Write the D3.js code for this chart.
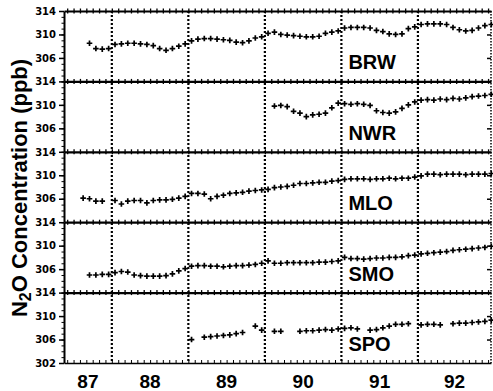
<!DOCTYPE html>
<meta charset="utf-8">
<title>N2O concentration</title>
<style>

body { margin: 0; background: #fff; }
.ylab text { font: bold 10px "DejaVu Sans", sans-serif; fill: #000; }
.big { font-family: "Liberation Sans", Arial, sans-serif; font-weight: bold; fill: #000; }

</style>

<svg width="493" height="391"></svg>
<script src="https://d3js.org/d3.v7.min.js"></script>
<script>

var stations = ["BRW", "NWR", "MLO", "SMO", "SPO"];
var years = [1987, 1988, 1989, 1990, 1991, 1992];
var yearLabels = ["87", "88", "89", "90", "91", "92"];
var yTicks = [306, 310, 314];

// monthly means in ppb, Aug 1987 .. Dec 1992, null = no data
var brw = [null,
  308.5, 307.6, 307.5, 307.6,
  308.3, 308.4, 308.5, 308.5, 308.4, 308.3, 308.1, 307.6, 307.3, 307.6, 308.0, 308.4,
  308.9, 309.2, 309.3, 309.3, 309.2, 309.1, 309.0, 308.7, 308.6, 308.9, 309.4, 309.6,
  310.2, 310.4, 310.0, 309.9, 309.8, 309.7, 309.6, 309.6, 309.7, 310.2, 310.4, 310.6,
  311.1, 311.2, 311.2, 311.2, 311.1, 310.7, 310.5, 310.1, 310.0, 310.1, 311.0, 311.3,
  311.7, 311.8, 311.8, 311.8, 311.7, 311.2, 310.8, 310.6, 310.7, 311.1, 311.5, 311.7];

var nwr = [null, null, null, null, null,
  null, null, null, null, null, null, null, null, null, null, null, null,
  null, null, null, null, null, null, null, null, null, null, null, null,
  null, 309.8, 309.9, 309.7, 308.9, 308.6, 308.0, 308.3, 308.4, 308.6, 309.5, 310.3,
  310.2, 310.1, 310.2, 310.1, 309.9, 309.0, 308.7, 308.6, 308.8, 309.4, 310.0, 310.5,
  310.8, 310.9, 310.8, 311.0, 310.9, 311.1, 311.0, 311.2, 311.4, 311.5, 311.6, 311.8];

var mlo = [306.1, 306.0, 305.6, 305.6, null,
  305.7, 305.1, 305.6, 305.7, 305.7, 305.3, 305.7, 305.8, 305.8, 305.9, 306.1, 306.4,
  306.9, 306.9, 306.8, 306.0, 306.4, 306.6, 306.9, 307.0, 307.1, 307.3, 307.4, 307.5,
  307.6, 307.9, 308.0, 308.1, 308.3, 308.6, 308.6, 308.7, 308.8, 308.8, 309.0, 309.1,
  309.3, 309.4, 309.4, 309.4, 309.3, 309.4, 309.4, 309.5, 309.4, 309.5, 309.5, 309.7,
  309.9, 310.2, 310.2, 310.1, 310.2, 310.2, 310.2, 310.1, 310.2, 310.2, 310.2, 310.3];

var smo = [null, 305.0, 305.0, 305.1, 305.1,
  305.4, 305.6, 305.5, 305.0, 304.9, 304.8, 304.8, 304.8, 304.9, 305.2, 305.7, 306.1,
  306.5, 306.6, 306.6, 306.5, 306.5, 306.4, 306.5, 306.6, 306.6, 306.7, 306.8, 307.0,
  307.4, 307.0, 307.0, 307.1, 307.1, 307.1, 307.1, 307.1, 307.2, 307.2, 307.3, 307.4,
  308.0, 307.8, 307.8, 307.7, 307.8, 307.9, 307.9, 308.0, 308.0, 308.1, 308.3, 308.4,
  308.6, 308.7, 308.8, 308.9, 309.0, 309.2, 309.3, 309.4, 309.5, 309.6, 309.7, 309.9];

var spo = [null, null, null, null, null,
  null, null, null, null, null, null, null, null, null, null, null, null,
  306.0, null, 306.4, 306.5, 306.6, 306.7, 306.8, 307.0, 307.2, null, 308.3, 307.6,
  null, 307.4, 307.4, null, null, 307.4, 307.5, 307.5, 307.6, 307.7, 307.6, 307.8,
  307.9, 308.0, 307.8, null, 307.6, 307.7, 308.0, 308.3, 308.6, 308.6, 308.7, null,
  308.5, 308.6, 308.6, 308.5, null, 308.7, 308.8, 308.8, 308.9, 309.0, 309.1, 309.3];

var series = [brw, nwr, mlo, smo, spo];

var svg = d3.select("svg"),
    plotLeft = 64, plotRight = 491, plotTop = 11, panelH = 70.4,
    plotBottom = plotTop + stations.length * panelH;

var x = d3.scaleLinear()
    .domain([1987.375, 1992.955])
    .range([plotLeft, plotRight]);

function monthTime(i) { return 1987 + (7 + i + 0.5) / 12; }

var monthTicks = d3.range(5, 72).map(function(m) { return 1987 + m / 12; });
var plus = "M-2.8,0H2.8M0,-2.8V2.8";

stations.forEach(function(name, p) {
  var y0 = plotTop + p * panelH;
  var y = d3.scaleLinear().domain([302, 314]).range([y0 + panelH, y0]);
  var g = svg.append("g");

  // top border of the panel, monthly ticks both ways
  var up = g.append("g")
      .attr("transform", "translate(0," + y0 + ")")
      .call(d3.axisBottom(x).tickValues(monthTicks).tickSize(2.5).tickSizeOuter(0).tickFormat(""));
  up.select(".domain").attr("stroke-width", 2.2);
  up.selectAll("line").attr("stroke-width", 1.3);
  g.append("g")
      .attr("transform", "translate(0," + y0 + ")")
      .call(d3.axisTop(x).tickValues(monthTicks).tickSize(2.5).tickFormat(""))
      .call(function(a) { a.select(".domain").remove(); a.selectAll("line").attr("stroke-width", 1.3); });

  // left axis
  var minor = g.append("g")
      .attr("transform", "translate(" + plotLeft + ",0)")
      .call(d3.axisLeft(y).tickValues(d3.range(302, 315)).tickSize(2.5).tickSizeOuter(0).tickFormat(""));
  minor.select(".domain").attr("stroke-width", 2);
  g.append("g")
      .attr("class", "ylab")
      .attr("transform", "translate(" + plotLeft + ",0)")
      .call(d3.axisLeft(y).tickValues(p == stations.length - 1 ? [302].concat(yTicks) : yTicks).tickSize(5).tickPadding(3))
      .call(function(a) { a.select(".domain").remove(); a.selectAll("line").attr("stroke-width", 1.5); });

  // right axis
  g.append("g")
      .attr("transform", "translate(" + plotRight + ",0)")
      .call(d3.axisLeft(y).tickValues([306, 310]).tickSize(4).tickFormat(""))
      .call(function(a) { a.select(".domain").remove(); a.selectAll("line").attr("stroke-width", 1.5); });

  // monthly means
  var pts = series[p]
      .map(function(v, i) { return { t: monthTime(i), v: v }; })
      .filter(function(d) { return d.v != null; });

  g.selectAll(".pt")
    .data(pts)
    .enter().append("path")
      .attr("class", "pt")
      .attr("d", plus)
      .attr("stroke", "#000")
      .attr("stroke-width", 1.7)
      .attr("transform", function(d) { return "translate(" + x(d.t) + "," + y(d.v) + ")"; });

  g.append("text")
      .attr("class", "big")
      .attr("x", x(1991) + 7)
      .attr("y", y0 + panelH - 12)
      .attr("font-size", 20)
      .text(name);
});

// bottom axis
var bot = svg.append("g")
    .attr("transform", "translate(0," + plotBottom + ")")
    .call(d3.axisTop(x).tickValues(monthTicks).tickSize(3).tickSizeOuter(0).tickFormat(""));
bot.select(".domain").attr("stroke-width", 1.5);

// right border, dotted
svg.append("line")
    .attr("x1", plotRight).attr("x2", plotRight)
    .attr("y1", plotTop).attr("y2", plotBottom)
    .attr("stroke", "#000")
    .attr("stroke-width", 1.5)
    .attr("stroke-dasharray", "1.5,1.5");

// year boundaries
svg.selectAll(".yr")
  .data(years.slice(1))
  .enter().append("line")
    .attr("class", "yr")
    .attr("x1", function(d) { return x(d); })
    .attr("x2", function(d) { return x(d); })
    .attr("y1", plotTop)
    .attr("y2", plotBottom)
    .attr("stroke", "#000")
    .attr("stroke-width", 2.2)
    .attr("stroke-dasharray", "2,2");

// year labels, centred in the visible part of each year
var dom = x.domain();
svg.selectAll(".yl")
  .data(years)
  .enter().append("text")
    .attr("class", "big")
    .attr("font-size", 19)
    .attr("text-anchor", "middle")
    .attr("x", function(d) { return (x(Math.max(d, dom[0])) + x(Math.min(d + 1, dom[1]))) / 2; })
    .attr("y", 388)
    .text(function(d, i) { return yearLabels[i]; });

// y title
var title = svg.append("text")
    .attr("class", "big")
    .attr("font-size", 22)
    .attr("text-anchor", "middle")
    .attr("transform", "translate(27,188) rotate(-90)");
title.append("tspan").text("N");
title.append("tspan").attr("font-size", 16).attr("dy", 4).text("2");
title.append("tspan").attr("dy", -4).text("O Concentration (ppb)");

</script>
